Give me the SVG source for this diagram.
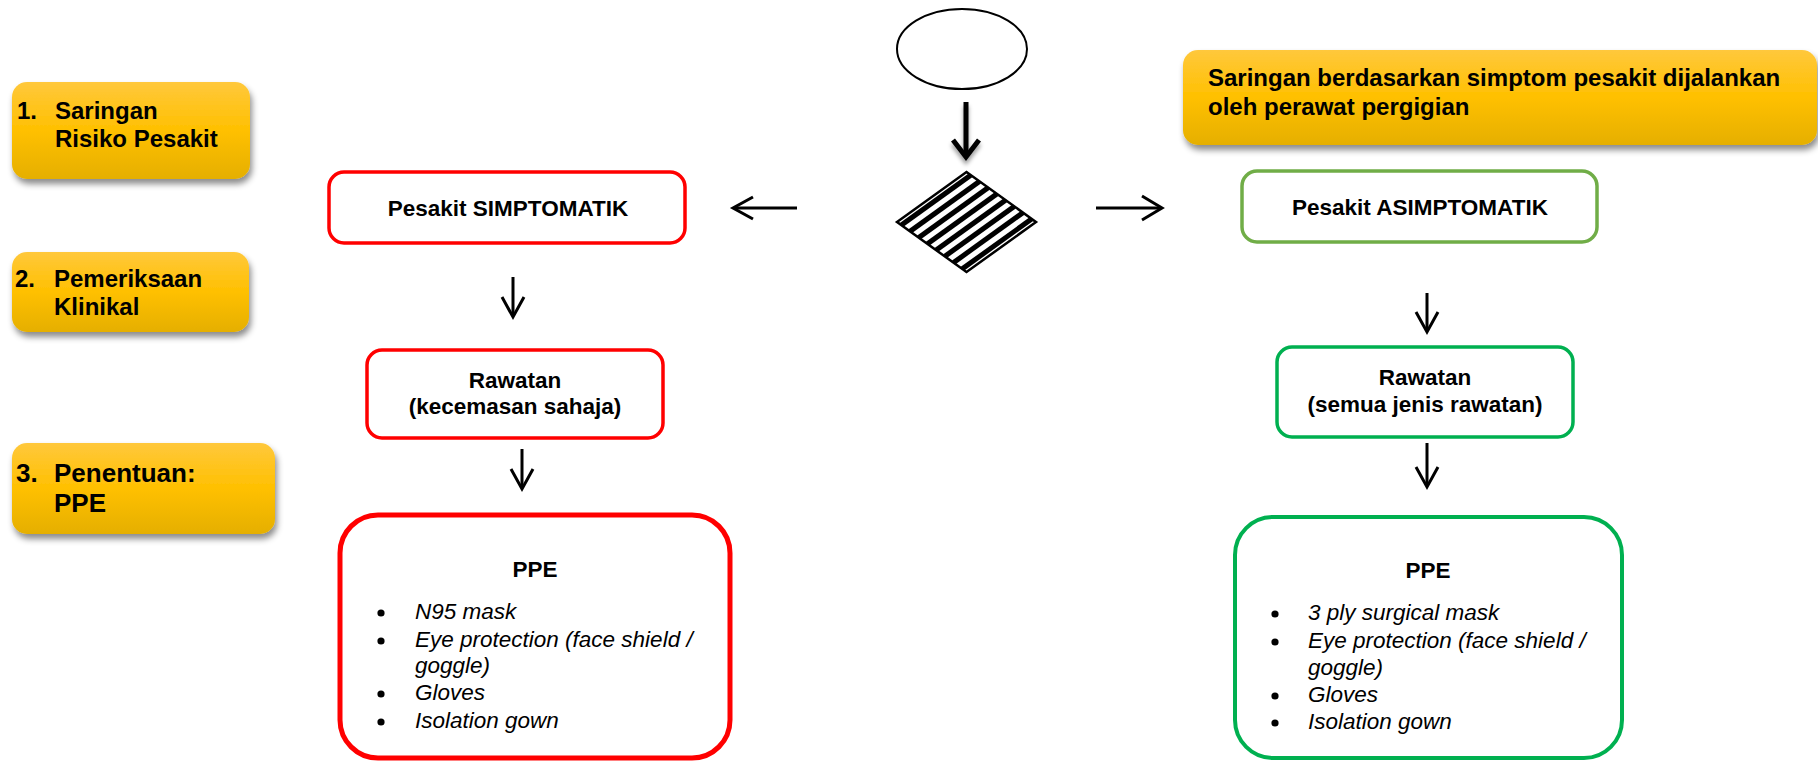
<svg xmlns="http://www.w3.org/2000/svg" width="1818" height="764" viewBox="0 0 1818 764">
<defs>
<linearGradient id="gold" x1="0" y1="0" x2="0" y2="1">
<stop offset="0" stop-color="#FFC83C"/>
<stop offset="0.5" stop-color="#FFC000"/>
<stop offset="1" stop-color="#E5AF00"/>
</linearGradient>
<filter id="shadow" x="-10%" y="-20%" width="120%" height="150%">
<feDropShadow dx="2" dy="5" stdDeviation="3" flood-color="#000" flood-opacity="0.45"/>
</filter>
<filter id="ashadow" x="-50%" y="-50%" width="200%" height="200%">
<feDropShadow dx="0" dy="4" stdDeviation="2" flood-color="#000" flood-opacity="0.4"/>
</filter>
<clipPath id="dclip"><polygon points="897,222 966.5,172 1036,222 966.5,272"/></clipPath>
<style>
.gold{fill:url(#gold);filter:url(#shadow);}
.t{font-family:"Liberation Sans",Arial,sans-serif;font-weight:bold;fill:#000;}
.it{font-family:"Liberation Sans",Arial,sans-serif;font-style:italic;font-size:22.5px;fill:#000;}
.b{font-family:"Liberation Sans",Arial,sans-serif;font-weight:bold;font-size:22.5px;fill:#000;}
.red{fill:#fff;stroke:#FF0000;stroke-width:3.5;}
.lg{fill:#fff;stroke:#70AD47;stroke-width:3.5;}
.dg{fill:#fff;stroke:#00B050;stroke-width:3.5;}
.arr{fill:none;stroke:#000;stroke-width:3;stroke-linecap:butt;stroke-linejoin:miter;}
.stripe{stroke:#000;stroke-width:5;}
</style>
</defs>
<rect width="1818" height="764" fill="#fff"/>

<g id="step1">
<rect class="gold" x="12" y="82" width="238" height="97" rx="15"/>
<text class="t" font-size="24" x="17" y="119">1.</text>
<text class="t" font-size="24" x="55" y="119">Saringan</text>
<text class="t" font-size="24" x="55" y="147">Risiko Pesakit</text>
</g>
<g id="step2">
<rect class="gold" x="12" y="252" width="237" height="80" rx="15"/>
<text class="t" font-size="24" x="15" y="287">2.</text>
<text class="t" font-size="24" x="54" y="287">Pemeriksaan</text>
<text class="t" font-size="24" x="54" y="315">Klinikal</text>
</g>
<g id="step3">
<rect class="gold" x="12" y="443" width="263" height="91" rx="15"/>
<text class="t" font-size="26" x="16" y="482">3.</text>
<text class="t" font-size="26" x="54" y="482">Penentuan:</text>
<text class="t" font-size="26" x="54" y="512">PPE</text>
</g>

<g id="note">
<rect class="gold" x="1183" y="50" width="634" height="95" rx="15"/>
<text class="t" font-size="24" x="1208" y="86">Saringan berdasarkan simptom pesakit dijalankan</text>
<text class="t" font-size="24" x="1208" y="115">oleh perawat pergigian</text>
</g>

<g id="start">
<ellipse cx="962" cy="49" rx="65" ry="40" fill="#fff" stroke="#000" stroke-width="2"/>
</g>

<g id="decision">
<polygon points="897,222 966.5,172 1036,222 966.5,272" fill="#fff"/>
<g clip-path="url(#dclip)">
<line class="stripe" x1="901.3" y1="225.1" x2="970.8" y2="175.1"/>
<line class="stripe" x1="910.0" y1="231.4" x2="979.5" y2="181.4"/>
<line class="stripe" x1="918.7" y1="237.6" x2="988.2" y2="187.6"/>
<line class="stripe" x1="927.4" y1="243.9" x2="996.9" y2="193.9"/>
<line class="stripe" x1="936.1" y1="250.1" x2="1005.6" y2="200.1"/>
<line class="stripe" x1="944.8" y1="256.4" x2="1014.3" y2="206.4"/>
<line class="stripe" x1="953.5" y1="262.6" x2="1023.0" y2="212.6"/>
<line class="stripe" x1="962.2" y1="268.9" x2="1031.7" y2="218.9"/>
</g>
<polygon points="897,222 966.5,172 1036,222 966.5,272" fill="none" stroke="#000" stroke-width="2.5"/>
</g>

<g id="symptomatic">
<rect class="red" x="329" y="172" width="356" height="71" rx="15"/>
<text class="b" x="508" y="216" text-anchor="middle">Pesakit SIMPTOMATIK</text>
</g>
<g id="treat-red">
<rect class="red" x="367" y="350" width="296" height="88" rx="15"/>
<text class="b" x="515" y="388" text-anchor="middle">Rawatan</text>
<text class="b" x="515" y="414" text-anchor="middle">(kecemasan sahaja)</text>
</g>
<g id="ppe-red">
<rect x="340" y="515" width="390" height="243" rx="38" fill="#fff" stroke="#FF0000" stroke-width="5"/>
<text class="b" x="535" y="577" text-anchor="middle">PPE</text>
<circle cx="381" cy="613" r="3.6"/>
<circle cx="381" cy="641" r="3.6"/>
<circle cx="381" cy="694" r="3.6"/>
<circle cx="381" cy="722" r="3.6"/>
<text class="it" x="415" y="619">N95 mask</text>
<text class="it" x="415" y="647">Eye protection (face shield /</text>
<text class="it" x="415" y="673">goggle)</text>
<text class="it" x="415" y="700">Gloves</text>
<text class="it" x="415" y="728">Isolation gown</text>
</g>

<g id="asymptomatic">
<rect class="lg" x="1242" y="171" width="355" height="71" rx="15"/>
<text class="b" x="1420" y="215" text-anchor="middle">Pesakit ASIMPTOMATIK</text>
</g>
<g id="treat-green">
<rect class="dg" x="1277" y="347" width="296" height="90" rx="15"/>
<text class="b" x="1425" y="385" text-anchor="middle">Rawatan</text>
<text class="b" x="1425" y="412" text-anchor="middle">(semua jenis rawatan)</text>
</g>
<g id="ppe-green">
<rect x="1235" y="517" width="387" height="241" rx="38" fill="#fff" stroke="#00B050" stroke-width="4"/>
<text class="b" x="1428" y="578" text-anchor="middle">PPE</text>
<circle cx="1275" cy="614" r="3.6"/>
<circle cx="1275" cy="642" r="3.6"/>
<circle cx="1275" cy="696" r="3.6"/>
<circle cx="1275" cy="723" r="3.6"/>
<text class="it" x="1308" y="620">3 ply surgical mask</text>
<text class="it" x="1308" y="648">Eye protection (face shield /</text>
<text class="it" x="1308" y="675">goggle)</text>
<text class="it" x="1308" y="702">Gloves</text>
<text class="it" x="1308" y="729">Isolation gown</text>
</g>

<g id="connectors">
<g filter="url(#ashadow)">
<line x1="966" y1="102" x2="966" y2="156" stroke="#000" stroke-width="5"/>
<path d="M953,140 L966,157 L979,140" fill="none" stroke="#000" stroke-width="5" stroke-linejoin="miter"/>
</g>
<line class="arr" x1="797" y1="208" x2="734" y2="208"/>
<path class="arr" d="M753,197 L733,208 L753,219"/>
<line class="arr" x1="1096" y1="208" x2="1161" y2="208"/>
<path class="arr" d="M1142,196 L1162,208 L1142,220"/>
<line class="arr" x1="513" y1="277" x2="513" y2="316"/>
<path class="arr" d="M502,297 L513,317 L524,297"/>
<line class="arr" x1="522" y1="449" x2="522" y2="488"/>
<path class="arr" d="M511,469 L522,489 L533,469"/>
<line class="arr" x1="1427" y1="293" x2="1427" y2="331"/>
<path class="arr" d="M1416,312 L1427,332 L1438,312"/>
<line class="arr" x1="1427" y1="443" x2="1427" y2="486"/>
<path class="arr" d="M1416,467 L1427,487 L1438,467"/>
</g>
</svg>
